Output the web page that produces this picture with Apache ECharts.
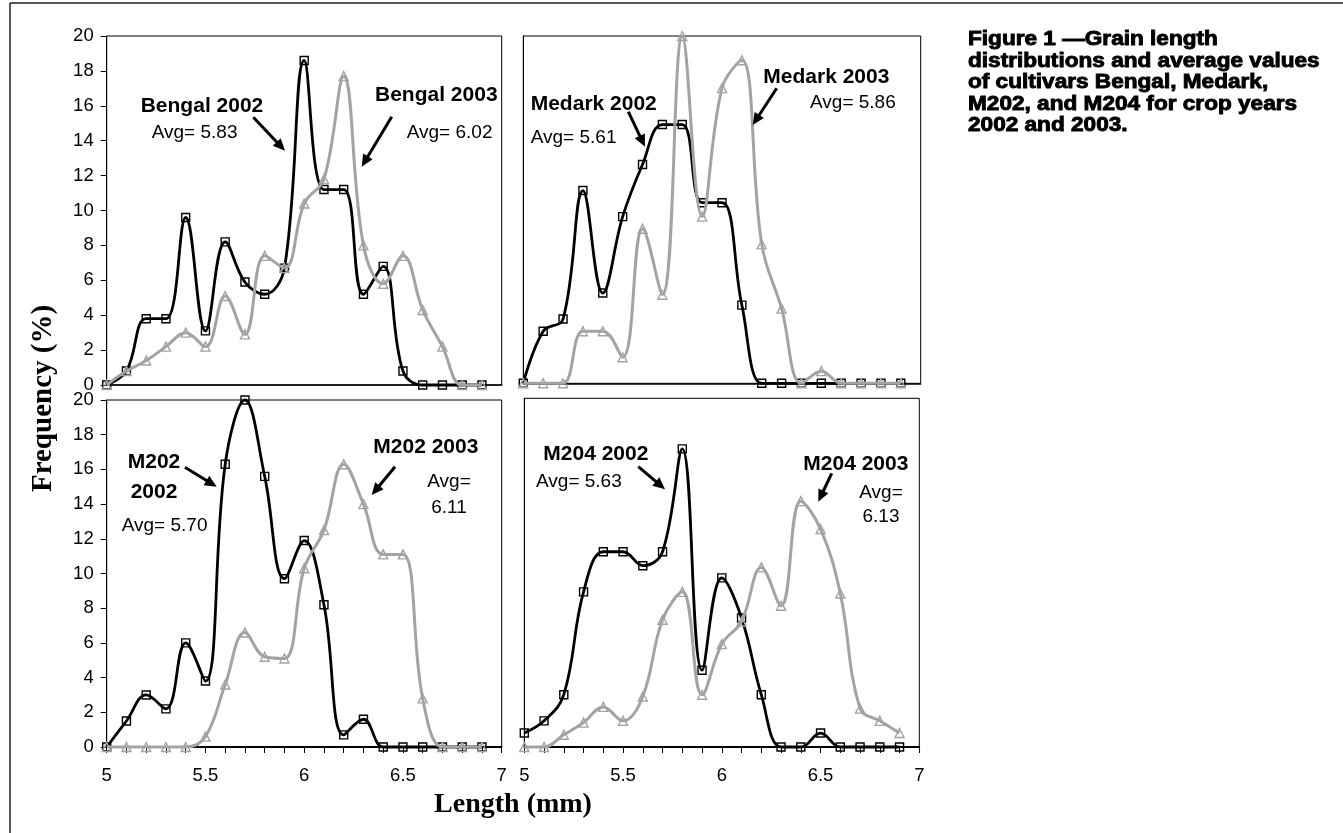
<!DOCTYPE html>
<html><head><meta charset="utf-8">
<script src="https://cdn.jsdelivr.net/npm/echarts@6/dist/echarts.min.js"></script>
<style>html,body{margin:0;padding:0;background:#fff}#c{width:1343px;height:833px}</style>
</head><body><div id="c"></div>
<script>
// ---- data ----
const lengths    = [5.0,5.1,5.2,5.3,5.4,5.5,5.6,5.7,5.8,5.9,6.0,6.1,6.2,6.3,6.4,6.5,6.6,6.7,6.8,6.9];
const bengal2002 = [0,0.8,3.8,3.8,9.6,3.1,8.2,5.9,5.2,6.7,18.6,11.2,11.2,5.2,6.8,0.8,0,0,0,0];
const bengal2003 = [0,0.8,1.4,2.2,3.0,2.2,5.1,2.9,7.4,6.7,10.4,11.8,17.7,8.0,5.8,7.4,4.3,2.2,0,0];
const medark2002 = [0,3.0,3.7,11.1,5.2,9.6,12.6,14.9,14.9,10.4,10.4,4.5,0,0,0,0,0,0,0,0];
const medark2003 = [0,0,0,3.0,3.0,1.5,8.9,5.1,20.0,9.6,17.0,18.6,8.0,4.3,0,0.7,0,0,0,0];
const m202y2002  = [0,1.5,3.0,2.2,6.0,3.8,16.3,20.0,15.6,9.7,11.9,8.2,0.7,1.6,0,0,0,0,0,0];
const m202y2003  = [0,0,0,0,0,0.6,3.6,6.6,5.2,5.1,10.3,12.5,16.3,14.0,11.1,11.1,2.8,0,0,0];
const m204y2002  = [0.8,1.5,3.0,8.9,11.2,11.2,10.4,11.2,17.1,4.4,9.7,7.4,3.0,0,0,0.8,0,0,0,0];
const m204y2003  = [0,0,0.7,1.4,2.3,1.5,2.9,7.3,8.9,3.0,5.9,7.2,10.3,8.1,14.1,12.5,8.8,2.2,1.5,0.8];
const xTickLabels = ['5','5.5','6','6.5','7'];
const titleLines = ['Figure 1 \u2014Grain length','distributions and average values','of cultivars Bengal, Medark,','M202, and M204 for crop years','2002 and 2003.'];
const yTitle = 'Frequency (%)';
const xTitle = 'Length (mm)';

// ---- layout / styles ----
const BLACK = '#000';
const GRAY = '#a3a3a3';
const grids = [
  {left:106.7, top:36, width:395, height:349},
  {left:523.3, top:36, width:397.4, height:347.3},
  {left:106.7, top:400, width:395, height:347},
  {left:524.3, top:398.3, width:395, height:348.7}
];

function pairs(arr){ return lengths.map((x,i)=>[x, arr[i]]); }
function s2002(gi, arr, name){
  return {type:'line', name, xAxisIndex:gi, yAxisIndex:gi, data:pairs(arr), smooth:0.4,
    symbol:'rect', symbolSize:8, showSymbol:true, clip:false, z:2,
    lineStyle:{color:BLACK, width:2.8},
    itemStyle:{color:'rgba(0,0,0,0)', borderColor:BLACK, borderWidth:1.4},
    emphasis:{disabled:true}};
}
function s2003(gi, arr, name){
  return {type:'line', name, xAxisIndex:gi, yAxisIndex:gi, data:pairs(arr), smooth:0.4,
    symbol:'triangle', symbolSize:9, showSymbol:true, clip:false, z:3,
    lineStyle:{color:GRAY, width:3},
    itemStyle:{color:'rgba(0,0,0,0)', borderColor:GRAY, borderWidth:1.4},
    emphasis:{disabled:true}};
}
function xAx(gi, bottom){
  return {type:'value', gridIndex:gi, min:5, max:7, interval:0.1,
    axisLine:{show:true, onZero:false, lineStyle:{color:BLACK, width:bottom?1.8:1.5}},
    axisTick:{show:bottom, inside:false, length:6, lineStyle:{color:BLACK, width:1}},
    axisLabel:{show:bottom, margin:19, fontSize:18.5, color:BLACK, fontFamily:'Liberation Sans',
      formatter:(v)=>{ const r=Math.round(v*10); if(r%5!==0) return ''; const s=String(r/10); return xTickLabels.indexOf(s)>=0?s:''; }},
    splitLine:{show:false}};
}
function yAx(gi, left){
  return {type:'value', gridIndex:gi, min:0, max:20, interval:2,
    axisLine:{show:true, lineStyle:{color:BLACK, width:1}},
    axisTick:{show:left, inside:false, length:6, lineStyle:{color:BLACK, width:1}},
    axisLabel:{show:left, margin:13, fontSize:18.5, color:BLACK, fontFamily:'Liberation Sans'},
    splitLine:{show:false}};
}

// annotation texts
const annots = [
  {t:'Bengal 2002', x:140.7, y:106.5, b:true},
  {t:'Avg= 5.83', x:151.7, y:132.4},
  {t:'Bengal 2003', x:375, y:95.2, b:true},
  {t:'Avg= 6.02', x:406.7, y:132.4},
  {t:'Medark 2002', x:530.7, y:104.2, b:true},
  {t:'Avg= 5.61', x:530.7, y:137.4},
  {t:'Medark 2003', x:763.3, y:77.5, b:true},
  {t:'Avg= 5.86', x:810, y:103.1},
  {t:'M202', x:154, y:462.5, b:true, c:true},
  {t:'2002', x:154, y:491.8, b:true, c:true},
  {t:'Avg= 5.70', x:121.7, y:525.8},
  {t:'M202 2003', x:373.3, y:447.5, b:true},
  {t:'Avg=', x:449, y:481.4, c:true},
  {t:'6.11', x:449, y:508.1, c:true},
  {t:'M204 2002', x:543.3, y:454.2, b:true},
  {t:'Avg= 5.63', x:536, y:481.4},
  {t:'M204 2003', x:803.3, y:464.2, b:true},
  {t:'Avg=', x:881, y:492.4, c:true},
  {t:'6.13', x:881, y:516.8, c:true}
];
const arrows = [
  [253.3,117.3,285,150.7],[391.7,116.7,361.7,166.7],
  [628.3,111.7,645,146.7],[776.7,88.3,752.7,125],
  [185,467.3,216.7,486.7],[395,466.7,371.7,495],
  [638.3,466.7,665,489.3],[831.7,473.3,818.3,501.7]
];

const graphic = [];
// outer frame (top & left)
graphic.push({type:'line', shape:{x1:10,y1:3,x2:1343,y2:3}, style:{stroke:'#222', lineWidth:1.5}});
graphic.push({type:'line', shape:{x1:10,y1:3,x2:10,y2:833}, style:{stroke:'#222', lineWidth:1.5}});
annots.forEach(a=>{
  graphic.push({type:'text', x:a.x, y:a.y, z:10, style:{text:a.t,
    font:(a.b?'bold 21px':'19px')+' "Liberation Sans", Arial, sans-serif',
    fill:BLACK, align:a.c?'center':'left', verticalAlign:'middle'}});
});
arrows.forEach(([x1,y1,x2,y2])=>{
  const dx=x2-x1, dy=y2-y1, L=Math.hypot(dx,dy), ux=dx/L, uy=dy/L;
  const hl=12, hw=5.5;
  const bx=x2-ux*hl, by=y2-uy*hl;
  graphic.push({type:'line', z:10, shape:{x1:x1,y1:y1,x2:bx+ux*1,y2:by+uy*1}, style:{stroke:BLACK, lineWidth:3}});
  graphic.push({type:'polygon', z:10, shape:{points:[[x2,y2],[bx-uy*hw,by+ux*hw],[bx+uy*hw,by-ux*hw]]}, style:{fill:BLACK}});
});
// title
const titleBaselines = [46, 67.5, 89, 110.3, 131.6];
titleLines.forEach((t,i)=>{
  graphic.push({type:'text', x:968, y:titleBaselines[i]-6.2, scaleX:1.13, z:10,
    style:{text:t, font:'bold 20px "Liberation Sans", Arial, sans-serif', fill:BLACK,
      stroke:BLACK, lineWidth:0.9, align:'left', verticalAlign:'middle'}});
});
// axis titles
graphic.push({type:'text', x:44, y:398.5, rotation:Math.PI/2, z:10,
  style:{text:yTitle, font:'bold 29px "Liberation Serif", "Times New Roman", serif', fill:BLACK, align:'center', verticalAlign:'middle'}});
graphic.push({type:'text', x:513, y:804.5, z:10,
  style:{text:xTitle, font:'bold 28px "Liberation Serif", "Times New Roman", serif', fill:BLACK, align:'center', verticalAlign:'middle'}});

const option = {
  animation:false,
  backgroundColor:'#fff',
  grid: grids.map(g=>Object.assign({show:true, borderColor:BLACK, borderWidth:1, backgroundColor:'rgba(0,0,0,0)'}, g)),
  xAxis:[xAx(0,false), xAx(1,false), xAx(2,true), xAx(3,true)],
  yAxis:[yAx(0,true), yAx(1,false), yAx(2,true), yAx(3,false)],
  series:[
    s2002(0,bengal2002,'Bengal 2002'), s2003(0,bengal2003,'Bengal 2003'),
    s2002(1,medark2002,'Medark 2002'), s2003(1,medark2003,'Medark 2003'),
    s2002(2,m202y2002,'M202 2002'), s2003(2,m202y2003,'M202 2003'),
    s2002(3,m204y2002,'M204 2002'), s2003(3,m204y2003,'M204 2003')
  ],
  graphic: graphic
};
const chart = echarts.init(document.getElementById('c'), null, {renderer:'canvas'});
chart.setOption(option);
</script>
</body></html>
